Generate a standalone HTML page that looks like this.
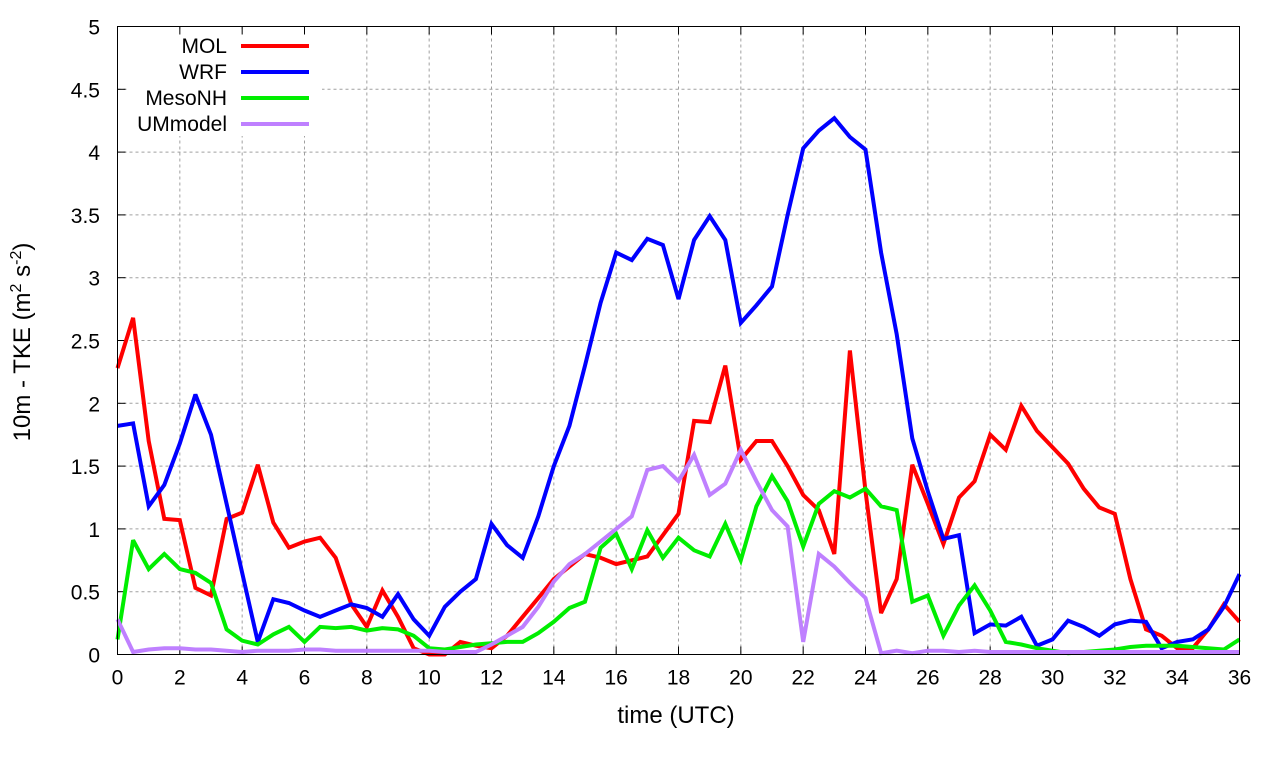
<!DOCTYPE html>
<html><head><meta charset="utf-8"><style>
html,body{margin:0;padding:0;background:#fff;}
svg{display:block;font-family:"Liberation Sans",sans-serif;}
</style></head><body>
<svg id="chart" width="1280" height="760"></svg>
<script>
const xTicks=[0,2,4,6,8,10,12,14,16,18,20,22,24,26,28,30,32,34,36];
const yTicks=[0,0.5,1,1.5,2,2.5,3,3.5,4,4.5,5];
const yTickLabels=["0","0.5","1","1.5","2","2.5","3","3.5","4","4.5","5"];
const seriesNames=["MOL","WRF","MesoNH","UMmodel"];
const mol=[2.28,2.68,1.7,1.08,1.07,0.53,0.47,1.08,1.13,1.51,1.05,0.85,0.9,0.93,0.77,0.4,0.22,0.51,0.3,0.05,0,0,0.1,0.07,0.05,0.15,0.3,0.45,0.6,0.7,0.8,0.77,0.72,0.75,0.78,0.95,1.12,1.86,1.85,2.3,1.55,1.7,1.7,1.5,1.27,1.15,0.8,2.42,1.3,0.33,0.6,1.51,1.2,0.88,1.25,1.38,1.75,1.63,1.98,1.78,1.65,1.52,1.32,1.17,1.12,0.6,0.2,0.15,0.05,0.05,0.2,0.4,0.26];
const wrf=[1.82,1.84,1.18,1.35,1.68,2.07,1.75,1.2,0.65,0.1,0.44,0.41,0.35,0.3,0.35,0.4,0.37,0.3,0.48,0.28,0.15,0.38,0.5,0.6,1.04,0.87,0.77,1.1,1.5,1.82,2.3,2.8,3.2,3.14,3.31,3.26,2.83,3.3,3.49,3.3,2.64,2.78,2.93,3.5,4.03,4.17,4.27,4.12,4.02,3.2,2.55,1.72,1.3,0.92,0.95,0.17,0.24,0.23,0.3,0.07,0.12,0.27,0.22,0.15,0.24,0.27,0.26,0.05,0.1,0.12,0.2,0.38,0.64];
const mesonh=[0.12,0.91,0.68,0.8,0.68,0.65,0.57,0.2,0.11,0.08,0.16,0.22,0.1,0.22,0.21,0.22,0.19,0.21,0.2,0.15,0.05,0.04,0.06,0.08,0.09,0.1,0.1,0.17,0.26,0.37,0.42,0.85,0.96,0.68,0.99,0.77,0.93,0.83,0.78,1.04,0.75,1.18,1.42,1.22,0.86,1.2,1.3,1.25,1.32,1.18,1.15,0.42,0.47,0.15,0.39,0.55,0.35,0.1,0.08,0.05,0.03,0.01,0.02,0.03,0.04,0.06,0.07,0.07,0.07,0.06,0.05,0.04,0.12];
const um=[0.28,0.02,0.04,0.05,0.05,0.04,0.04,0.03,0.02,0.03,0.03,0.03,0.04,0.04,0.03,0.03,0.03,0.03,0.03,0.03,0.03,0.02,0.02,0.02,0.08,0.15,0.22,0.38,0.58,0.72,0.8,0.9,1.0,1.1,1.47,1.5,1.38,1.59,1.27,1.36,1.63,1.38,1.15,1.02,0.1,0.8,0.7,0.57,0.45,0.01,0.03,0.01,0.03,0.03,0.02,0.03,0.02,0.02,0.02,0.02,0.02,0.02,0.02,0.02,0.02,0.02,0.02,0.02,0.02,0.02,0.02,0.02,0.02];
const timeStep=0.5;
const colors=["#ff0000","#0000ff","#00ee00","#bf80ff"];
const NS="http://www.w3.org/2000/svg";
const svg=document.getElementById('chart');
const L=117.5,R=1239.5,T=26.5,B=654.5;
function X(v){return L+(v-0)/(36-0)*(R-L);}
function Y(v){return B-(v-0)/(5-0)*(B-T);}
function mk(tag,attrs,parent){const e=document.createElementNS(NS,tag);for(const k in attrs)e.setAttribute(k,attrs[k]);(parent||svg).appendChild(e);return e;}
const grid=mk('g',{});


xTicks.forEach(t=>{if(t>0&&t<36){mk('line',{x1:X(t),x2:X(t),y1:T,y2:B,stroke:'#a0a0a0','stroke-dasharray':'3,3','stroke-width':1},grid);}});
yTicks.forEach(t=>{if(t>0&&t<5){mk('line',{x1:L,x2:R,y1:Y(t),y2:Y(t),stroke:'#a0a0a0','stroke-dasharray':'3,3','stroke-width':1},grid);}});
const lb=mk('rect',{x:127,y:29,width:195,height:107,fill:'#fff'});


const ax=mk('g',{});


xTicks.forEach(t=>{
  mk('line',{x1:X(t),x2:X(t),y1:B,y2:B-8,stroke:'#000'},ax);
  mk('line',{x1:X(t),x2:X(t),y1:T,y2:T+8,stroke:'#000'},ax);
  const tx=mk('text',{x:X(t),y:B+30,'font-size':21,'text-anchor':'middle'},ax);
  tx.textContent=String(t);
  
  
});
yTicks.forEach((t,i)=>{
  mk('line',{x1:L,x2:L+8,y1:Y(t),y2:Y(t),stroke:'#000'},ax);
  mk('line',{x1:R,x2:R-8,y1:Y(t),y2:Y(t),stroke:'#000'},ax);
  const tx=mk('text',{x:100,y:Y(t)+8,'font-size':21,'text-anchor':'end'},ax);
  tx.textContent=yTickLabels[i];
  
  
});
const allSeries=[mol,wrf,mesonh,um];
const lineNames=['mol-line','wrf-line','mesonh-line','ummodel-line'];
allSeries.forEach((s,si)=>{
  const pts=s.map((v,i)=>X(i*timeStep).toFixed(1)+','+Y(v).toFixed(1)).join(' ');
  const p=mk('polyline',{points:pts,fill:'none',stroke:colors[si],'stroke-width':4,'stroke-linejoin':'miter','stroke-miterlimit':3});
  
  
});
const fr=mk('rect',{x:L,y:T,width:R-L,height:B-T,fill:'none',stroke:'#000','stroke-width':1});


const legY=[46,72,98,124];
seriesNames.forEach((n,i)=>{
  const g=mk('g',{});
  
  
  const t=mk('text',{x:227,y:legY[i]+7,'font-size':21,'text-anchor':'end'},g);
  t.textContent=n;
  mk('line',{x1:241,x2:309,y1:legY[i],y2:legY[i],stroke:colors[i],'stroke-width':4},g);
});
const xt=mk('text',{x:676,y:723,'font-size':24,'text-anchor':'middle'});
xt.textContent='time (UTC)';


const yt=mk('text',{x:0,y:0,'font-size':24,'text-anchor':'middle',transform:'translate(30,342) rotate(-90)'});
yt.innerHTML='10m - TKE (m<tspan dy="-9" font-size="16">2</tspan><tspan dy="9"> s</tspan><tspan dy="-9" font-size="16">-2</tspan><tspan dy="9">)</tspan>';


</script>
</body></html>
